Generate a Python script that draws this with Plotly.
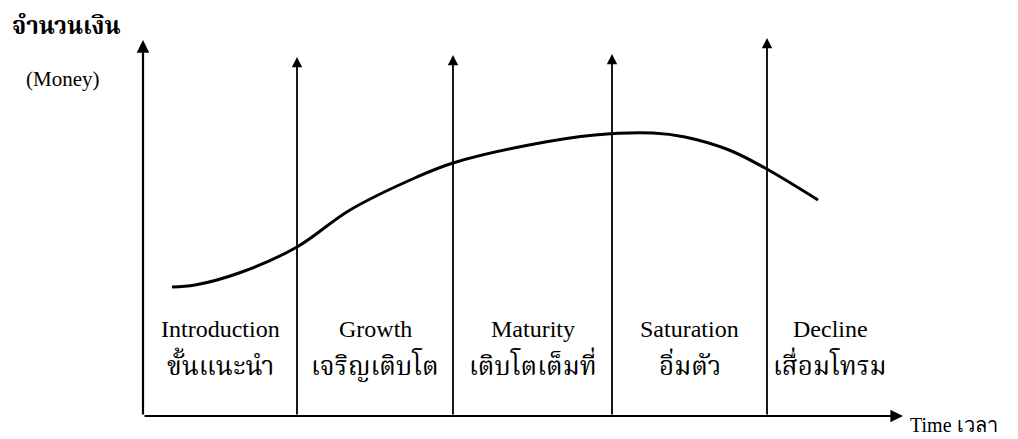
import plotly.graph_objects as go

# ---- data ----
# sales / money curve over time (time units from origin, money units from time axis)
curve_time = [29, 52, 96, 154, 207, 274, 310, 386, 452, 510, 542, 586, 622, 675]
curve_money = [129, 131, 143, 169, 206, 239, 253, 271, 281, 283, 279, 266, 248, 216]

# stage boundaries along time axis (last value = right end of final stage)
stage_edges = [0, 154, 310, 469, 624, 750]
# height of each vertical arrow (first = money axis)
edge_heights = [376, 359, 361, 362, 378]

stage_en = ["Introduction", "Growth", "Maturity", "Saturation", "Decline"]
stage_th = ["ขั้นแนะนำ", "เจริญเติบโต", "เติบโตเต็มที่", "อิ่มตัว", "เสื่อมโทรม"]

y_title_th = "จำนวนเงิน"
y_title_en = "(Money)"
x_title = "Time เวลา"
time_axis_end = 760

SERIF = "Liberation Serif, Times New Roman, serif"
THAI = "Noto Serif Thai, Noto Sans Thai, Norasi, Kinnari, Loma, Garuda, Tlwg Typo, Liberation Serif, serif"

fig = go.Figure()

# curve
fig.add_trace(go.Scatter(
    x=curve_time, y=curve_money, mode="lines",
    line=dict(color="black", width=3, shape="spline", smoothing=1.0),
    hoverinfo="skip", showlegend=False))

annotations = []
# vertical arrows (axis + stage dividers)
for i, (t, h) in enumerate(zip(stage_edges[:-1], edge_heights)):
    annotations.append(dict(
        x=t, y=h, ax=t, ay=0, xref="x", yref="y", axref="x", ayref="y",
        text="", showarrow=True, arrowhead=2, arrowsize=1.15,
        arrowwidth=2.2 if i == 0 else 1.8, arrowcolor="black",
        standoff=0, startstandoff=0))
# horizontal time axis
annotations.append(dict(
    x=time_axis_end, y=0, ax=0, ay=0, xref="x", yref="y", axref="x", ayref="y",
    text="", showarrow=True, arrowhead=2, arrowsize=1.15,
    arrowwidth=2.2, arrowcolor="black", standoff=0, startstandoff=0))

# stage labels
for i in range(len(stage_en)):
    mid = (stage_edges[i] + stage_edges[i + 1]) / 2
    annotations.append(dict(
        x=mid, y=87, xref="x", yref="y", text=stage_en[i], showarrow=False,
        font=dict(family=SERIF, size=24, color="black"),
        xanchor="center", yanchor="middle"))
    annotations.append(dict(
        x=mid, y=48, xref="x", yref="y", text=stage_th[i], showarrow=False,
        font=dict(family=THAI, size=26, color="black"),
        xanchor="center", yanchor="middle"))

# axis titles
annotations.append(dict(
    x=-133, y=389, xref="x", yref="y", text="<b>" + y_title_th + "</b>", showarrow=False,
    font=dict(family=THAI, size=24, color="black"),
    xanchor="left", yanchor="middle"))
annotations.append(dict(
    x=-81, y=337, xref="x", yref="y", text=y_title_en, showarrow=False,
    font=dict(family=SERIF, size=21, color="black"),
    xanchor="center", yanchor="middle"))
annotations.append(dict(
    x=765, y=-22, xref="x", yref="y", text=x_title, showarrow=False,
    font=dict(family=SERIF, size=20, color="black"),
    xanchor="left", yanchor="bottom"))

fig.update_layout(
    width=1018, height=439,
    margin=dict(l=0, r=0, t=0, b=0),
    paper_bgcolor="white", plot_bgcolor="white",
    xaxis=dict(range=[-143, 875], visible=False, fixedrange=True),
    yaxis=dict(range=[-23, 416], visible=False, fixedrange=True),
    annotations=annotations,
    showlegend=False,
)

fig.write_html("out.html", config={"displayModeBar": False},
               post_script="document.body.style.margin='0';document.body.style.overflow='hidden';")
